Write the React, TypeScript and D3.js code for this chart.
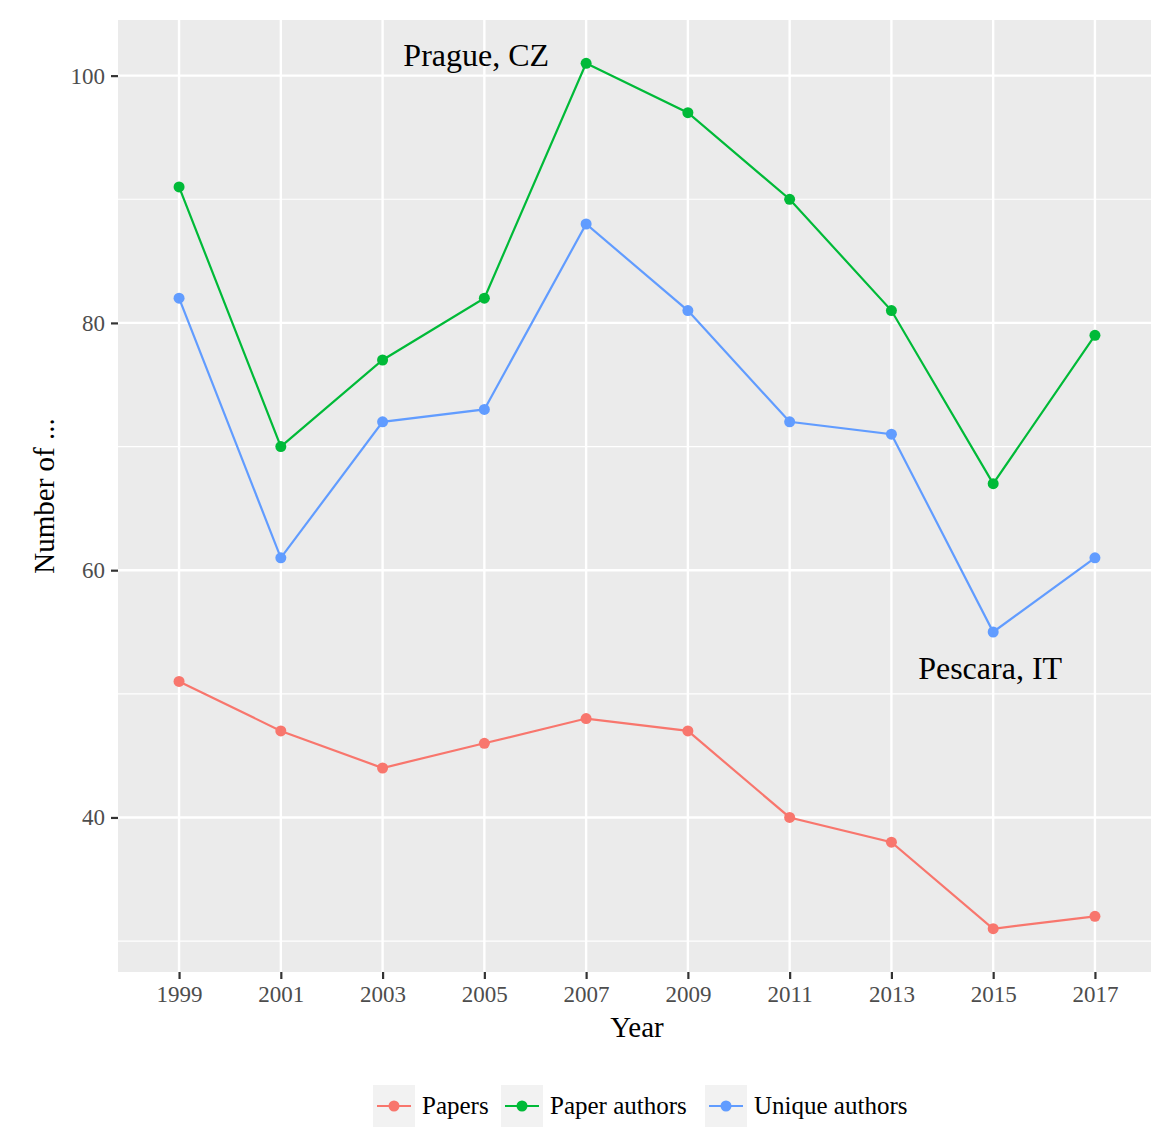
import React, { useEffect, useRef } from 'react';
import { select, scalePoint, scaleLinear, line, axisBottom, axisLeft } from 'd3';

const years = ['1999', '2001', '2003', '2005', '2007', '2009', '2011', '2013', '2015', '2017'];
const papers = [51, 47, 44, 46, 48, 47, 40, 38, 31, 32];
const paperAuthors = [91, 70, 77, 82, 101, 97, 90, 81, 67, 79];
const uniqueAuthors = [82, 61, 72, 73, 88, 81, 72, 71, 55, 61];
const seriesNames = ['Papers', 'Paper authors', 'Unique authors'];
const colors = ['#F8766D', '#00BA38', '#619CFF'];
const yTicks = [40, 60, 80, 100];
const yMinor = [30, 50, 70, 90];
// annotation labels: position as (category index, value)
const notes = [
    { label: 'Prague, CZ', idx: 2.92, value: 101.7 },
    { label: 'Pescara, IT', idx: 7.97, value: 52.1 },
];

const FONT = '"Liberation Serif", "DejaVu Serif", serif';

const App = () => {
    const svgRef = useRef(null);
    const width = 1151, height = 1134;
    const panel = { left: 118, top: 20, right: 1156, bottom: 972 };

    useEffect(() => {
        const svg = select(svgRef.current);
        svg.selectAll('*').remove();

        const x = scalePoint()
            .domain(years)
            .range([panel.left, panel.right])
            .padding(0.6);

        const y = scaleLinear()
            .domain([27.5, 104.5])
            .range([panel.bottom, panel.top]);

        const g = svg.append('g');

        g.append('rect')
            .attr('x', panel.left)
            .attr('y', panel.top)
            .attr('width', panel.right - panel.left)
            .attr('height', panel.bottom - panel.top)
            .attr('fill', '#EBEBEB');

        // minor grid
        g.selectAll('.minor')
            .data(yMinor)
            .enter()
            .append('line')
            .attr('x1', panel.left)
            .attr('x2', panel.right)
            .attr('y1', d => y(d))
            .attr('y2', d => y(d))
            .attr('stroke', '#fff')
            .attr('stroke-width', 1.2);

        // major grid
        g.selectAll('.major-y')
            .data(yTicks)
            .enter()
            .append('line')
            .attr('x1', panel.left)
            .attr('x2', panel.right)
            .attr('y1', d => y(d))
            .attr('y2', d => y(d))
            .attr('stroke', '#fff')
            .attr('stroke-width', 2.4);

        g.selectAll('.major-x')
            .data(years)
            .enter()
            .append('line')
            .attr('x1', d => x(d))
            .attr('x2', d => x(d))
            .attr('y1', panel.top)
            .attr('y2', panel.bottom)
            .attr('stroke', '#fff')
            .attr('stroke-width', 2.4);

        const series = [papers, paperAuthors, uniqueAuthors];
        const drawLine = line()
            .x((d, i) => x(years[i]))
            .y(d => y(d));

        series.forEach((s, k) => {
            g.append('path')
                .datum(s)
                .attr('d', drawLine)
                .attr('fill', 'none')
                .attr('stroke', colors[k])
                .attr('stroke-width', 2.2);
            g.selectAll('.pt' + k)
                .data(s)
                .enter()
                .append('circle')
                .attr('cx', (d, i) => x(years[i]))
                .attr('cy', d => y(d))
                .attr('r', 5.5)
                .attr('fill', colors[k]);
        });

        // annotations
        g.selectAll('.note')
            .data(notes)
            .enter()
            .append('text')
            .attr('x', d => x(years[0]) + d.idx * x.step())
            .attr('y', d => y(d.value))
            .attr('dy', '0.35em')
            .attr('font-family', FONT)
            .attr('font-size', 32)
            .attr('text-anchor', 'middle')
            .attr('fill', '#000')
            .text(d => d.label);

        // axes
        const xAxis = axisBottom(x).tickSize(7).tickPadding(7);
        const xa = svg.append('g')
            .attr('transform', `translate(0,${panel.bottom})`)
            .call(xAxis);
        xa.select('.domain').remove();
        xa.selectAll('line').attr('stroke', '#333').attr('stroke-width', 2.2);
        xa.selectAll('text')
            .attr('font-family', FONT)
            .attr('font-size', 23)
            .attr('fill', '#4D4D4D');

        const yAxis = axisLeft(y).tickValues(yTicks).tickSize(7).tickPadding(6);
        const ya = svg.append('g')
            .attr('transform', `translate(${panel.left},0)`)
            .call(yAxis);
        ya.select('.domain').remove();
        ya.selectAll('line').attr('stroke', '#333').attr('stroke-width', 2.2);
        ya.selectAll('text')
            .attr('font-family', FONT)
            .attr('font-size', 23)
            .attr('fill', '#4D4D4D');

        // axis titles
        svg.append('text')
            .attr('x', 637)
            .attr('y', 1037)
            .attr('text-anchor', 'middle')
            .attr('font-family', FONT)
            .attr('font-size', 29)
            .text('Year');
        svg.append('text')
            .attr('transform', `translate(54,${(panel.top + panel.bottom) / 2}) rotate(-90)`)
            .attr('text-anchor', 'middle')
            .attr('font-family', FONT)
            .attr('font-size', 29)
            .text('Number of ...');

        // legend
        const legendX = [373, 501, 705];
        const lg = svg.append('g');
        seriesNames.forEach((name, k) => {
            const item = lg.append('g').attr('transform', `translate(${legendX[k]},1085)`);
            item.append('rect')
                .attr('width', 42)
                .attr('height', 42)
                .attr('fill', '#F2F2F2');
            item.append('line')
                .attr('x1', 4)
                .attr('x2', 38)
                .attr('y1', 21)
                .attr('y2', 21)
                .attr('stroke', colors[k])
                .attr('stroke-width', 2.2);
            item.append('circle')
                .attr('cx', 21)
                .attr('cy', 21)
                .attr('r', 5.5)
                .attr('fill', colors[k]);
            item.append('text')
                .attr('x', 49)
                .attr('y', 29)
                .attr('font-family', FONT)
                .attr('font-size', 25)
                .attr('fill', '#000')
                .text(name);
        });
    }, []);

    return (
        <svg
            width={width}
            height={height}
            viewBox={`0 0 ${width} ${height}`}
            ref={svgRef}
            style={{ position: 'absolute', left: 0, top: 0, background: '#fff' }}>
        </svg>
    );
};

export default App;
